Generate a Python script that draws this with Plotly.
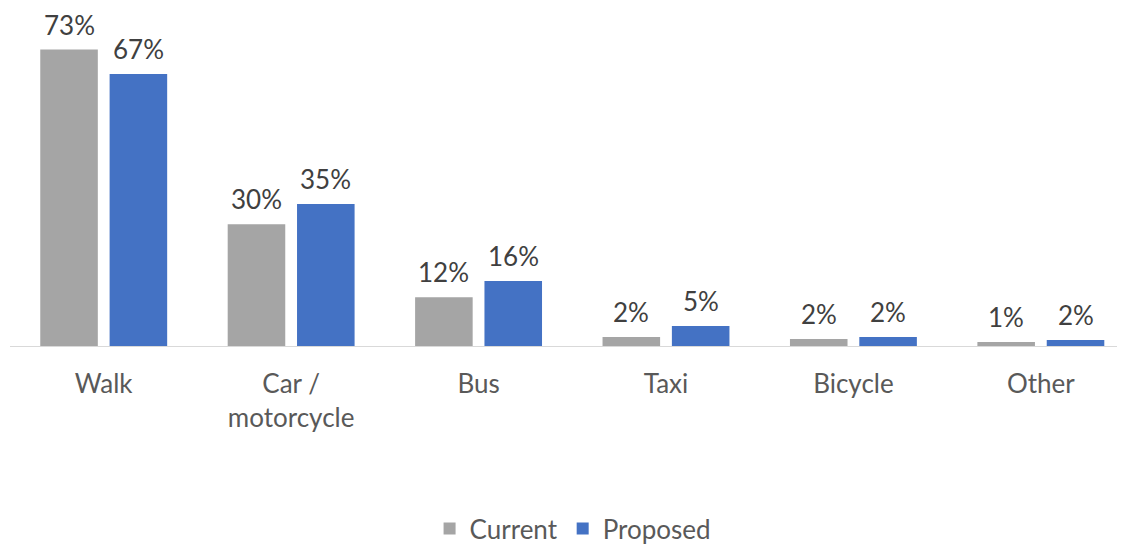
import plotly.graph_objects as go

categories = ["Walk", "Car /<br>motorcycle", "Bus", "Taxi", "Bicycle", "Other"]
current = [73, 30, 12, 2.2, 1.7, 1.0]
proposed = [67, 35, 16, 4.9, 2.2, 1.5]
series_names = ["Current", "Proposed"]
colors = ["#A5A5A5", "#4472C4"]

W, H = 1125, 544
ml, mr, mt, mb = 2, 8, 0, 206
bargap, bargroupgap = 0.26, 0.17
xrange_ = [-0.5, 5.449]
FONT = "Lato"
FS = 26

fig = go.Figure()
for name, vals, col in zip(series_names, [current, proposed], colors):
    fig.add_trace(go.Bar(x=list(range(len(categories))), y=vals, name=name,
                         marker=dict(color=col, line=dict(width=0))))

# data labels via annotations placed at bar centers
plot_w = W - ml - mr
px_per_unit = plot_w / (xrange_[1] - xrange_[0])
slot = px_per_unit * (1 - bargap) / 2
for i, vals in enumerate([current, proposed]):
    shift = (i - 0.5) * slot
    for j, v in enumerate(vals):
        fig.add_annotation(x=j, y=v, text=f"{v:.0f}%", showarrow=False,
                           xshift=shift, yshift=8, yanchor="bottom", borderpad=0,
                           font=dict(family=FONT, size=FS, color="#404040"))

fig.update_layout(
    width=W, height=H,
    margin=dict(l=ml, r=mr, t=mt, b=mb),
    barmode="group", bargap=bargap, bargroupgap=bargroupgap,
    plot_bgcolor="white", paper_bgcolor="white",
    font=dict(family=FONT, size=FS, color="#595959"),
    showlegend=True,
    legend=dict(orientation="h", x=0.505, xanchor="center", y=-0.541, yanchor="middle",
                font=dict(size=FS, color="#595959"), traceorder="normal"),
    xaxis=dict(range=xrange_, tickmode="array", tickvals=list(range(len(categories))),
               ticktext=categories, showline=True, linecolor="#D9D9D9", linewidth=1,
               showgrid=False, zeroline=False, ticks="", ticklabelstandoff=15,
               tickfont=dict(family=FONT, size=FS, color="#595959")),
    yaxis=dict(range=[0, 83.25], visible=False, showgrid=False, zeroline=False),
)

fig.write_html("out.html")
